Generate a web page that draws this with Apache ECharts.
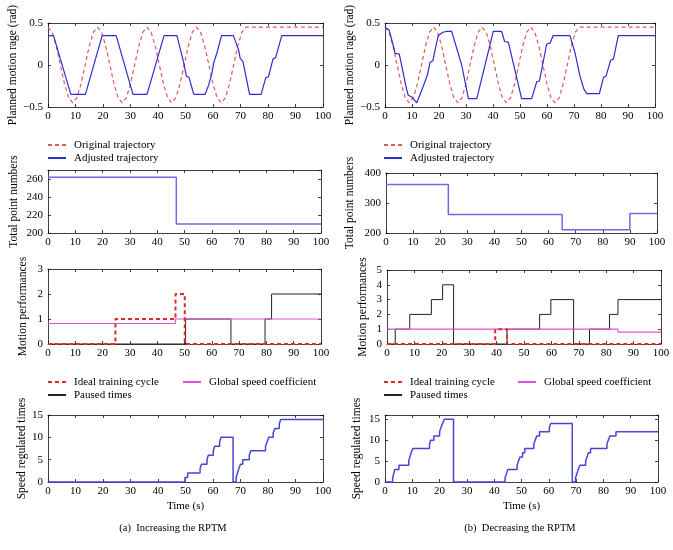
<!DOCTYPE html>
<html>
<head>
<meta charset="utf-8">
<script src="https://cdn.jsdelivr.net/npm/echarts@6/dist/echarts.min.js"></script>
<style>html,body{margin:0;padding:0;background:#fff;}#c{width:673px;height:550px;}</style>
</head>
<body>
<div id="c"></div>
<script>
// ---------- data ----------
const xTickMin = 0, xTickMax = 100, xTickStep = 10;

// Original trajectory (same in both panels)
const originalTrajectory = [
 [0,0.45],[1.5,0.39],[3,0.225],[4.5,0],[6,-0.225],[7.5,-0.39],[9,-0.45],[10.5,-0.39],[12,-0.225],[13.5,0],[15,0.225],[16.5,0.39],
 [18,0.45],[19.5,0.39],[21,0.225],[22.5,0],[24,-0.225],[25.5,-0.39],[27,-0.45],[28.5,-0.39],[30,-0.225],[31.5,0],[33,0.225],[34.5,0.39],
 [36,0.45],[37.5,0.39],[39,0.225],[40.5,0],[42,-0.225],[43.5,-0.39],[45,-0.45],[46.5,-0.39],[48,-0.225],[49.5,0],[51,0.225],[52.5,0.39],
 [54,0.45],[55.5,0.39],[57,0.225],[58.5,0],[60,-0.225],[61.5,-0.39],[63,-0.45],[64.5,-0.39],[66,-0.225],[67.5,0],[69,0.225],[70.5,0.39],
 [72,0.45],[100,0.45]
];
const adjustedA = [
 [0,0.35],[2,0.35],[8.3,-0.35],[13.6,-0.35],[19.7,0.35],[24.8,0.35],[30.9,-0.35],[36,-0.35],[42.2,0.35],[46.9,0.35],
 [49.4,0.02],[50.3,-0.13],[51.3,-0.15],[53,-0.35],[57.1,-0.35],[58.4,-0.24],[59.6,-0.1],[60.2,0.02],[61.4,0.14],[63.1,0.35],
 [67.4,0.35],[69.3,0.18],[69.9,0.08],[70.9,0.04],[73.3,-0.35],[77.5,-0.35],[79.2,-0.15],[80.2,-0.14],[81.8,0.07],[82.8,0.09],
 [85,0.35],[100,0.35]
];
const adjustedB = [
 [0,0.45],[1.5,0.42],[3,0.24],[3.7,0.14],[5.3,0.13],[8,-0.29],[8.6,-0.36],[9.9,-0.38],[11,-0.42],[11.8,-0.45],[12.3,-0.44],
 [14.2,-0.25],[15.7,-0.12],[16.7,0.03],[17.7,0.05],[19.7,0.35],[21.5,0.39],[22.8,0.4],[24.7,0.4],[28.4,0],[30.9,-0.4],[34,-0.4],
 [40.1,0.4],[43.2,0.4],[44.3,0.28],[45.7,0.27],[50.6,-0.4],[54.3,-0.4],[56.2,-0.2],[57.2,-0.19],[59.9,0.25],[61.1,0.26],[62.3,0.35],
 [68.5,0.35],[70.4,0.14],[72.2,-0.13],[73.7,-0.29],[74.7,-0.34],[79.4,-0.34],[80.9,-0.15],[81.9,-0.13],[83.6,0.06],[84.6,0.07],
 [86.4,0.35],[100,0.35]
];

// Total point numbers (value holds from t until next t)
const pointsA = [[0,262],[47,210],[100,210]];
const pointsB = [[0,362],[23,262],[65,211],[90,265],[100,265]];

// Motion performances
const idealA  = [[0,0],[24.7,1],[46.7,2],[50.1,0],[100,0]];
const pausedA = [[0,0],[50.4,1],[67,0],[79.5,1],[81.9,2],[100,2]];
const speedA  = [[0,0.82],[46.7,1],[100,1]];
const idealB  = [[0,0],[39.5,1],[43.8,0],[100,0]];
const pausedB = [[0,0],[3,1],[8.3,2],[16.2,3],[20.3,4],[24.3,0],[43.8,1],[55.7,2],[59.8,3],[68.1,0],[73.9,1],[81.2,2],[84.3,3],[100,3]];
const speedB  = [[0,1],[84.3,0.8],[100,0.8]];

// Speed regulated times
const regulatedA = [[0,0],[49.8,1],[50.8,2],[55.3,3],[55.8,4],[57.8,5],[58.3,6],[60.1,7],[60.6,8],[62.4,9],[62.9,10],[67.3,0],
 [68.4,1],[68.9,2],[69.4,3],[70,4],[70.8,5],[73.2,6],[73.7,7],[79.1,8],[79.7,9],[80.3,10],[81.9,11],[82.5,12],[84.1,13],[84.6,14],[100,14]];
const regulatedB = [[0,0],[2.8,1],[3.2,2],[3.6,3],[5.1,4],[8.7,5],[9.1,6],[9.6,7],[10.2,8],[16.3,9],[16.7,10],[17.9,11],[20,12],[20.5,13],
 [21.1,14],[21.7,15],[25.1,0],[44,1],[44.5,2],[45,3],[48.4,4],[48.9,5],[49.5,6],[50.4,7],[51.2,8],[54.5,9],[55,10],[55.6,11],[56.6,12],
 [60.2,13],[60.7,14],[68.6,0],[69.8,1],[70.3,2],[70.8,3],[71.4,4],[73.5,5],[74,6],[74.5,7],[75.3,8],[81.3,9],[81.8,10],[82.4,11],[84.6,12],[100,12]];

const yTitles = ['Planned motion rage (rad)','Total point numbers','Motion performances','Speed regulated times'];
const legendTop = ['Original trajectory','Adjusted trajectory'];
const legendMid1 = ['Ideal training cycle','Paused times'];
const legendMid2 = ['Global speed coefficient'];
const captions = ['(a)  Increasing the RPTM','(b)  Decreasing the RPTM'];
const xTitle = 'Time (s)';

// ---------- layout ----------
const FONT = '"Liberation Serif", "DejaVu Serif", serif';
const panels = [
 {rect:{left:48,top:23,width:275,height:84},  y:[-0.5,0.5,0.5], gap:29, title:yTitles[0]},
 {rect:{left:48,top:170,width:273,height:63}, y:[200,270,20],   gap:28, title:yTitles[1]},
 {rect:{left:48,top:269,width:273,height:75}, y:[0,3,1],        gap:19, title:yTitles[2]},
 {rect:{left:48,top:415,width:275,height:67}, y:[0,15,5],       gap:20, title:yTitles[3], x:xTitle},
 {rect:{left:385,top:23,width:270,height:84}, y:[-0.5,0.5,0.5], gap:29, title:yTitles[0]},
 {rect:{left:386,top:173,width:271,height:60},y:[200,400,100],  gap:30, title:yTitles[1]},
 {rect:{left:387,top:270,width:274,height:74},y:[0,5,1],        gap:18, title:yTitles[2]},
 {rect:{left:385,top:415,width:273,height:67},y:[0,16,5],       gap:22, title:yTitles[3], x:xTitle}
];

const grid = [], xAxis = [], yAxis = [];
const axisCol = '#111';
panels.forEach((p, i) => {
  grid.push(Object.assign({containLabel:false}, p.rect));
  const tick = {inside:true, length:3, lineStyle:{color:axisCol, width:0.8}};
  const line = {show:true, onZero:false, lineStyle:{color:axisCol, width:0.8}};
  const lbl = {color:'#000', fontFamily:FONT, fontSize:11};
  const [ymin, ymax, yint] = p.y;
  xAxis.push({gridIndex:i, type:'value', position:'bottom', min:xTickMin, max:xTickMax, interval:xTickStep,
    axisLine:line, axisTick:tick, splitLine:{show:false}, axisLabel:Object.assign({margin:4}, lbl),
    name:p.x || '', nameLocation:'middle', nameGap:19, nameTextStyle:{color:'#000', fontFamily:FONT, fontSize:11}});
  xAxis.push({gridIndex:i, type:'value', position:'top', min:xTickMin, max:xTickMax, interval:xTickStep,
    axisLine:line, axisTick:tick, splitLine:{show:false}, axisLabel:{show:false}});
  const fmt = v => {
    if (v > ymax - 1e-9 && (Math.round((v - ymin) / yint * 1e6) % 1e6) !== 0) return '';
    const s = String(Math.round(v * 1000) / 1000);
    return s.replace('-', '\u2212');
  };
  yAxis.push({gridIndex:i, type:'value', position:'left', min:ymin, max:ymax, interval:yint,
    axisLine:line, axisTick:tick, splitLine:{show:false}, axisLabel:Object.assign({margin:5, formatter:fmt}, lbl),
    name:p.title, nameLocation:'middle', nameGap:p.gap, nameRotate:90,
    nameTextStyle:{color:'#000', fontFamily:FONT, fontSize:11.5}});
  yAxis.push({gridIndex:i, type:'value', position:'right', min:ymin, max:ymax, interval:yint,
    axisLine:line, axisTick:tick, splitLine:{show:false}, axisLabel:{show:false}});
});

function ser(name, i, data, ls, step) {
  return {name, type:'line', xAxisIndex:2*i, yAxisIndex:2*i, data, symbol:'none', step:step || false,
    lineStyle:ls, itemStyle:{color:ls.color}, animation:false, silent:true, clip:false};
}
const RED = '#e05a5a', BLUE = '#2d2dd0', PTS = '#6b6be6', IDEAL = '#dd2a2a', BLACK = '#222', MAG = '#e050e0', REG = '#4646d6';

const series = [
  ser(legendTop[0], 0, originalTrajectory, {color:RED, width:1.2, type:[4,3]}),
  ser(legendTop[1], 0, adjustedA, {color:BLUE, width:1.2}),
  ser('pointsA', 1, pointsA, {color:PTS, width:1.5}, 'end'),
  ser(legendMid1[1], 2, pausedA, {color:BLACK, width:1}, 'end'),
  ser(legendMid2[0], 2, speedA, {color:MAG, width:1.2}, 'end'),
  ser(legendMid1[0], 2, idealA, {color:IDEAL, width:2, type:[4,3]}, 'end'),
  ser('regA', 3, regulatedA, {color:REG, width:1.5}, 'end'),
  ser(legendTop[0], 4, originalTrajectory, {color:RED, width:1.2, type:[4,3]}),
  ser(legendTop[1], 4, adjustedB, {color:BLUE, width:1.2}),
  ser('pointsB', 5, pointsB, {color:PTS, width:1.5}, 'end'),
  ser(legendMid1[1], 6, pausedB, {color:BLACK, width:1}, 'end'),
  ser(legendMid2[0], 6, speedB, {color:MAG, width:1.2}, 'end'),
  ser(legendMid1[0], 6, idealB, {color:IDEAL, width:2, type:[4,3]}, 'end'),
  ser('regB', 7, regulatedB, {color:REG, width:1.5}, 'end')
];

function leg(left, top, data) {
  return {left, top, orient:'vertical', data, itemWidth:18, itemHeight:8, itemGap:1, selectedMode:false,
    itemStyle:{opacity:0},
    textStyle:{color:'#000', fontFamily:FONT, fontSize:11, lineHeight:12, padding:[0,0,0,3]}, padding:0};
}
const legend = [
  leg(47, 139, legendTop), leg(383, 139, legendTop),
  leg(47, 376, legendMid1), leg(182, 376, legendMid2),
  leg(383, 376, legendMid1), leg(517, 376, legendMid2)
];

const graphic = [
  {type:'text', x:173, y:528, style:{text:captions[0], textAlign:'center', textVerticalAlign:'middle', font:'10.5px ' + FONT, fill:'#000'}},
  {type:'text', x:520, y:528, style:{text:captions[1], textAlign:'center', textVerticalAlign:'middle', font:'10.5px ' + FONT, fill:'#000'}}
];

const chart = echarts.init(document.getElementById('c'), null, {renderer:'canvas'});
chart.setOption({animation:false, backgroundColor:'#fff', grid, xAxis, yAxis, series, legend, graphic});
</script>
</body>
</html>
